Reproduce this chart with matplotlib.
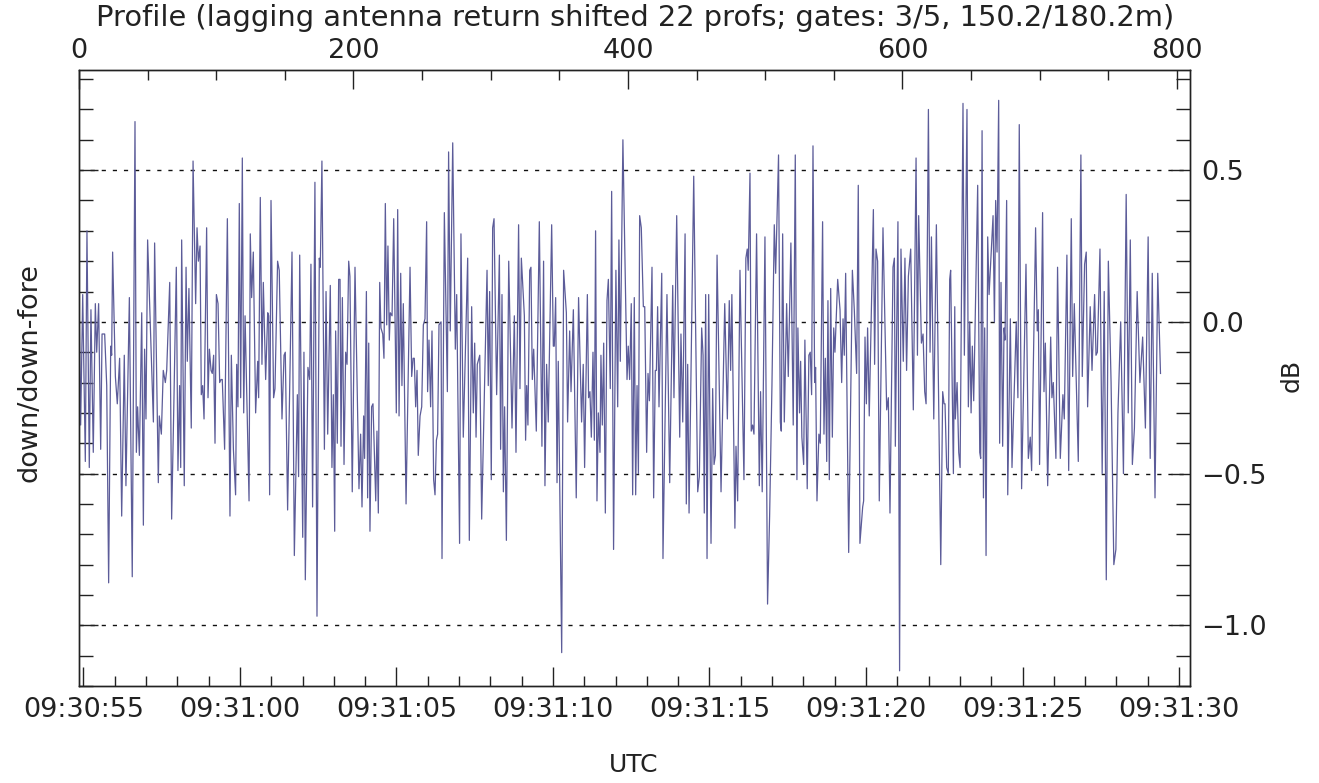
import numpy as np
import matplotlib
matplotlib.use('Agg')
import matplotlib.pyplot as plt
from matplotlib.ticker import MultipleLocator, FixedLocator, FuncFormatter

# profile number and down/down-fore ratio (dB)
profile = [
    0, 1.2, 2.7, 4.6, 5.8, 7.5, 8.7, 10.4, 11.9, 12.9, 14.3, 15.8, 16.8, 18.7, 20.2, 21.6, 23.1, 23.8, 24.5, 26.5,
    27.9, 29.6, 31.1, 33.0, 34.2, 36.7, 38.8, 40.8, 41.8, 42.7, 44.0, 45.7, 46.9, 47.8, 48.8, 50.0, 54.2, 55.1, 57.8, 58.5,
    60.0, 61.4, 62.9, 63.9, 66.1,
    67.5, 69.2, 70.9, 72.1, 73.3, 74.1, 74.8, 76.7, 78.0, 78.9, 80.1, 81.8, 83.1, 85.0, 86.0, 87.0, 88.2, 89.1, 90.1, 91.1,
    93.0, 94.0, 95.0, 96.2, 97.1, 98.1, 99.1, 100.1, 101.3, 102.5, 103.5, 104.4, 106.1, 108.1, 110.0, 111.0, 112.5, 114.1,
    114.9, 115.8, 116.8, 117.8, 119.0, 120.0, 121.0, 123.9, 124.8, 125.8, 127.0, 128.7, 130.2, 130.9, 132.1, 133.3, 134.3,
    136.0, 137.5, 138.2, 138.9, 139.9, 141.8, 142.8, 144.7, 145.9, 147.9, 149.4, 150.3, 152.0, 155.2, 156.9, 159.1, 160.0,
    160.8, 163.0, 163.9, 164.9, 166.8, 168.1, 169.0, 170.2, 171.9, 173.4, 175.1, 175.8, 177.0, 178.8, 180.0, 181.2, 183.1,
    184.3, 185.3, 186.3, 187.0, 188.2, 189.2, 190.2, 190.9, 191.9, 193.1, 194.3, 195.3, 196.5, 197.4, 199.1, 201.1,
    204.0, 205.2, 206.2, 207.4, 208.1, 209.4, 210.3, 211.1, 212.0, 213.2, 214.2, 216.2, 217.1, 218.1, 219.1, 220.0, 221.3,
    222.2, 223.2, 224.2, 225.1, 226.1, 226.8, 228.1, 229.3, 231.2, 232.2, 233.2, 234.4, 235.3, 236.3, 238.3, 241.2, 242.4,
    243.4, 244.3, 245.3, 246.3, 247.2, 248.5, 249.7, 250.9, 252.1, 253.3, 254.0, 255.0, 256.2, 257.2, 258.4, 259.4, 260.4,
    261.3, 262.3, 263.8, 264.5, 266.2, 268.4, 269.3,
    270.5, 272.3, 274.2, 275.2, 277.3, 278.3, 280.0, 283.2, 284.4, 286.1, 287.3, 288.3, 289.3, 290.2, 292.0, 293.4, 297.3,
    298.2, 299.2, 300.4, 301.4, 302.4, 304.3, 306.3, 307.2, 308.2, 309.2, 310.1, 311.4, 313.1, 315.5, 317.2, 318.4, 320.3,
    321.3, 322.3, 324.5, 325.4, 326.2, 327.1, 328.4, 329.3, 330.3, 331.3, 333.2, 335.4, 337.3,
    338.5, 339.5, 340.7, 341.9, 344.4, 345.6, 346.3, 347.3, 348.3, 349.2, 351.7, 353.1, 355.1, 356.0, 357.5, 358.5, 360.2,
    362.3, 364.0, 366.2, 367.4, 368.4, 370.4, 371.3, 372.3, 373.3, 374.5, 375.5, 376.4, 377.4, 378.4, 379.6, 380.3, 381.3,
    382.3, 383.5, 384.7, 385.7, 387.1, 388.1, 389.5, 391.2, 392.5, 393.4, 394.4, 396.3, 399.3, 400.2, 401.2, 402.4, 403.4,
    404.6, 405.6,
    406.6, 407.6, 408.5, 409.7, 411.2, 412.2, 413.6, 414.6, 415.6, 417.5, 418.7, 419.9, 420.7, 421.6, 422.6, 424.6, 425.5,
    428.4, 430.4, 432.6, 433.5, 435.5, 437.7, 438.6, 439.9, 441.6, 442.5, 443.5, 444.5, 447.9, 450.8, 452.0, 453.7, 454.7,
    455.6, 456.6, 457.6, 458.8, 460.5, 461.7, 462.7, 463.7, 464.9, 467.8, 470.5, 472.4,
    473.8, 474.8, 475.7, 477.9, 478.7, 479.9, 481.6, 484.5, 485.9, 486.9, 487.6, 488.9, 489.8, 490.8, 491.8, 493.7, 495.7,
    496.6, 497.8, 499.8, 501.7, 503.2, 504.9, 506.6, 507.6, 509.7, 511.0, 511.7, 512.7, 513.9, 515.6, 516.8, 518.7, 520.4,
    521.9, 523.1, 523.8, 525.0, 525.8, 526.7, 528.0, 528.9, 530.6, 531.8, 532.8, 533.8, 534.8, 536.0, 536.7, 537.7, 539.1,
    540.1,
    541.8, 542.8, 543.8, 544.8, 545.7, 546.7, 547.7, 548.9, 549.9, 550.8, 552.8, 554.5, 555.7, 556.7, 557.6, 558.6, 560.8,
    563.5, 564.9, 566.6, 567.8, 569.0, 571.0, 571.7, 572.7, 573.7, 574.6, 575.8, 578.8, 579.7, 580.7, 581.9, 583.1, 585.8,
    588.5, 589.7, 590.9, 593.1, 594.1, 594.8, 596.7, 597.9, 598.9, 600.6, 601.8, 603.0, 604.3, 606.0, 607.9,
    609.9, 610.9, 611.8, 613.8, 615.0, 616.2, 617.2, 618.9, 620.1, 621.1, 622.8, 624.7, 627.9, 629.3, 630.3, 631.0, 632.2,
    633.4, 634.4, 635.1, 637.1, 638.1, 638.5, 639.8, 641.0, 642.0, 644.1, 645.1, 647.0, 648.0, 649.0, 650.0, 650.9, 651.9,
    654.8, 656.3, 657.0, 658.0, 659.0, 659.9, 660.9, 662.1, 663.1, 666.0, 667.0, 667.9, 668.9, 670.1, 670.8, 671.8, 673.0,
    674.0, 674.7, 675.9, 676.7,
    678.6, 679.8, 682.9, 684.1, 685.1, 686.8, 690.0, 691.7, 693.1, 694.1, 697.0, 698.2, 699.0, 699.9, 702.1, 703.1, 704.1,
    705.8, 708.0, 708.9, 709.9, 711.8, 713.0, 715.0, 716.9, 717.9, 719.8, 721.1, 723.0, 724.0, 725.2, 728.1, 730.0, 731.0,
    732.7, 733.9, 734.9, 736.8, 738.1, 740.0, 741.0, 742.0, 743.9,
    745.5, 747.0, 748.5, 750.0, 752.0, 754.0, 755.5, 757.0, 759.0, 761.0, 763.0, 764.5, 766.0, 767.5, 769.0, 771.0, 773.0,
    775.0, 777.0, 779.0, 780.5, 782.0, 784.0, 786.0, 788.0,
]
db = [
    0.10, -0.34, 0.09, -0.46, 0.30, -0.48, 0.04, -0.43, 0.06, -0.10, 0.06, -0.42, -0.04, -0.04, -0.21, -0.86, -0.08, -0.11, 0.23, -0.18,
    -0.27, -0.12, -0.64, -0.11, -0.54, 0.08, -0.84, 0.66, -0.43, -0.28, -0.44, 0.03, -0.67, -0.09, -0.32, 0.27, -0.33, 0.26, -0.53, -0.31,
    -0.37, -0.16, -0.20, -0.16, 0.13,
    -0.65, -0.25, 0.18, -0.49, -0.21, -0.48, 0.27, -0.54, 0.18, -0.13, 0.11, -0.35, 0.53, 0.06, 0.31, 0.20, 0.25, -0.24, -0.21, -0.32,
    0.31, -0.25, -0.09, -0.16, -0.17, -0.11, -0.40, 0.09, 0.06, -0.20, -0.19, -0.19, -0.42, 0.34, -0.64, -0.11, -0.42, -0.57,
    -0.14, -0.28, 0.39, -0.25, 0.54, -0.30, 0.02, -0.59, 0.29, 0.08, 0.23, -0.30, -0.13, -0.25, 0.41, -0.14, 0.13,
    -0.19, 0.03, 0.02, -0.57, 0.40, -0.25, -0.22, 0.20, 0.17, -0.32, -0.11, -0.10, -0.62, 0.23, -0.77, -0.24, -0.51,
    0.22, -0.71, -0.10, -0.85, -0.15, -0.19, 0.19, -0.61, 0.46, -0.97, 0.21, 0.18, 0.53, -0.42, 0.10, -0.37, 0.12,
    -0.48, -0.24, -0.69, -0.03, -0.40, 0.14, 0.14, -0.41, 0.08, -0.47, -0.10, -0.14, 0.20, 0.15, -0.56, 0.18,
    -0.55, -0.37, -0.61, -0.31, -0.45, 0.10, -0.58, -0.07, -0.69, -0.28, -0.27, -0.59, -0.36, -0.63, 0.13, -0.02, -0.04,
    -0.12, 0.39, -0.01, 0.25, -0.06, 0.03, 0.02, 0.34, -0.30, 0.37, -0.31, 0.16, -0.21, 0.06, -0.60, 0.18, -0.18,
    -0.12, -0.12, -0.28, -0.16, -0.44, -0.31, -0.28, -0.01, 0.01, 0.33, -0.23, -0.06, -0.28, -0.03, -0.52, -0.57, -0.39,
    -0.37, -0.01, 0.00, -0.78, 0.36, -0.23, 0.56,
    -0.03, 0.59, -0.09, 0.09, -0.73, 0.29, -0.38, 0.21, -0.72, 0.05, -0.30, -0.07, -0.38, -0.14, -0.11, -0.65, 0.17,
    -0.21, 0.10, -0.52, 0.31, 0.34, -0.24, 0.22, -0.42, 0.09, -0.56, -0.28, -0.72, 0.20, -0.35, 0.02, -0.43, 0.32,
    -0.22, 0.21, 0.02, -0.39, -0.21, -0.34, 0.17, 0.18, -0.19, -0.09, -0.36, 0.33, -0.41,
    0.20, -0.54, -0.14, -0.33, 0.32, -0.08, -0.08, 0.08, -0.53, -0.13, -1.09, 0.17, 0.03, -0.33, -0.03, -0.23, 0.04,
    -0.58, 0.08, -0.33, -0.14, -0.48, 0.09, -0.25, -0.23, -0.38, -0.10, -0.39, 0.30, -0.59, -0.30, -0.43, -0.11, -0.34,
    -0.07, -0.63, 0.07, 0.14, -0.22, 0.43, -0.75, 0.17, -0.28, 0.27, -0.13, 0.60, -0.19, -0.08, -0.19, 0.06, -0.57,
    0.08, -0.57,
    -0.21, -0.50, 0.35, 0.31, 0.05, 0.05, -0.43, -0.17, -0.26, 0.18, -0.58, -0.16, -0.16, 0.05, -0.28, 0.16, -0.78,
    0.09, -0.53, 0.12, -0.25, 0.35, -0.38, -0.04, -0.33, 0.29, -0.60, -0.14, -0.63, 0.48, -0.56, -0.51, -0.02, -0.11,
    -0.63, 0.09, -0.78, 0.09, -0.73, -0.22, -0.47, -0.44, 0.22, -0.56, 0.06, -0.32,
    0.07, -0.16, 0.09, -0.68, -0.41, -0.59, 0.17, -0.52, 0.21, 0.24, 0.17, 0.49, -0.36, -0.34, -0.37, 0.29, -0.54,
    -0.23, -0.56, 0.28, -0.93, -0.64, -0.21, 0.32, 0.16, 0.55, -0.33, -0.36, 0.29, -0.33, 0.06, -0.18, 0.26, -0.34,
    0.55, -0.52, -0.02, -0.30, -0.13, -0.38, -0.47, -0.06, -0.55, -0.11, -0.10, -0.24, 0.58, -0.20, -0.15, -0.59, -0.37,
    -0.40,
    0.33, -0.37, -0.12, -0.46, 0.07, -0.52, 0.11, -0.38, -0.02, -0.10, 0.14, 0.04, -0.20, 0.01, -0.11, 0.16, -0.76,
    0.17, 0.04, -0.17, 0.45, -0.73, -0.61, -0.59, -0.05, -0.27, -0.02, -0.31, 0.37, -0.14, 0.24, 0.20, -0.59, 0.31,
    -0.29, -0.25, -0.63, 0.18, 0.21, -0.41, 0.33, -1.15, 0.24, -0.13, 0.21, -0.16, 0.15, 0.24, -0.29,
    0.54, -0.11, 0.35, -0.07, -0.04, -0.23, -0.27, 0.70, -0.10, 0.28, -0.32, 0.32, -0.80, -0.23, -0.27, -0.27, -0.48,
    -0.50, 0.14, 0.17, -0.50, 0.05, -0.32, -0.20, -0.43, -0.48, 0.72, -0.11, 0.70, -0.28, 0.00, -0.30, -0.08, -0.26,
    0.45, -0.43, -0.45, 0.63, -0.58, -0.02, -0.77, 0.28, 0.09, 0.35, 0.00, 0.40, 0.23, 0.73, -0.40, 0.13, -0.41,
    -0.02, -0.06, 0.40, -0.57,
    0.01, -0.48, 0.00, -0.25, 0.65, -0.55, 0.19, -0.45, -0.38, -0.49, 0.31, -0.03, 0.04, -0.47, 0.36, -0.23, -0.07,
    -0.54, -0.05, -0.25, -0.20, -0.45, 0.18, -0.45, -0.24, -0.32, 0.22, -0.49, 0.34, -0.18, 0.06, -0.46, 0.55, -0.18,
    0.19, 0.23, -0.28, 0.05, -0.16, 0.09, -0.11, -0.10, 0.24,
    -0.50, 0.10, -0.85, 0.20, -0.20, -0.80, -0.75, -0.30, 0.00, -0.50, 0.42, -0.30, 0.27, -0.47, -0.35, 0.10, -0.20,
    -0.05, -0.35, 0.28, -0.45, 0.16, -0.58, 0.16, -0.17,
]

time_labels = ['09:30:55', '09:31:00', '09:31:05', '09:31:10', '09:31:15', '09:31:20', '09:31:25', '09:31:30']
time_secs = [0, 5, 10, 15, 20, 25, 30, 35]
dotted_levels = [0.5, 0.0, -0.5, -1.0]

W, H = 1319, 783
fig = plt.figure(figsize=(W / 100, H / 100), dpi=100)
plt.rcParams['font.family'] = 'DejaVu Sans'
txt = '#222222'
fs_tick = 19.5

L, R, T, B = 79, 1190, 70, 686
ax = fig.add_axes([L / W, 1 - B / H, (R - L) / W, (B - T) / H])
top = ax.twiny()

top.plot(profile, db, color='#5c5c99', lw=0.9)
top.set_xlim(0, 809.5)
ax.set_xlim(-0.14, 35.35)
ax.set_ylim(-1.2, 0.83)

for lev in dotted_levels:
    ax.axhline(lev, color='#111111', lw=1.0, ls=(0, (3, 5)), zorder=0)


def db_fmt(v, pos):
    s = f'{v:.1f}'
    if s == '-0.0':
        s = '0.0'
    return s.replace('-', '\u2212')


# bottom time axis
ax.xaxis.set_major_locator(FixedLocator(time_secs))
ax.set_xticklabels(time_labels)
ax.xaxis.set_minor_locator(MultipleLocator(1))
# y axis: labels on right, ticks both sides
ax.yaxis.set_major_locator(MultipleLocator(0.5))
ax.yaxis.set_minor_locator(MultipleLocator(0.1))
ax.yaxis.set_major_formatter(FuncFormatter(db_fmt))
ax.tick_params(axis='y', which='both', direction='in', left=True, right=True,
               labelleft=False, labelright=True, colors=txt, labelsize=fs_tick, pad=8)
ax.tick_params(axis='y', which='major', length=14, width=1)
ax.tick_params(axis='y', which='minor', length=10, width=1)
ax.tick_params(axis='x', which='both', direction='in', bottom=True, top=False,
               colors=txt, labelsize=fs_tick, pad=8)
ax.tick_params(axis='x', which='major', length=14, width=1)
ax.tick_params(axis='x', which='minor', length=7, width=1)

top.xaxis.set_major_locator(MultipleLocator(200))
top.xaxis.set_minor_locator(MultipleLocator(50))
top.tick_params(axis='x', which='both', direction='in', colors=txt, labelsize=fs_tick, pad=4)
top.tick_params(axis='x', which='major', length=14, width=1)
top.tick_params(axis='x', which='minor', length=7, width=1)

for a in (ax, top):
    for s in a.spines.values():
        s.set_color('#222222')
        s.set_linewidth(1.0)

fig.text(634 / W, 1 - 765 / H, 'UTC', ha='center', va='center', fontsize=18, color=txt)
fig.text(30 / W, 1 - 372 / H, 'down/down-fore', ha='center', va='center', rotation=90,
         fontsize=19.5, color=txt)
fig.text(1292 / W, 1 - 375 / H, 'dB', ha='center', va='center', rotation=90, fontsize=18, color=txt)
fig.text(635 / W, 1 - 18 / H, 'Profile (lagging antenna return shifted 22 profs; gates: 3/5, 150.2/180.2m)',
         ha='center', va='center', fontsize=20.8, color=txt)

fig.savefig('out.png', dpi=100, facecolor='white')
